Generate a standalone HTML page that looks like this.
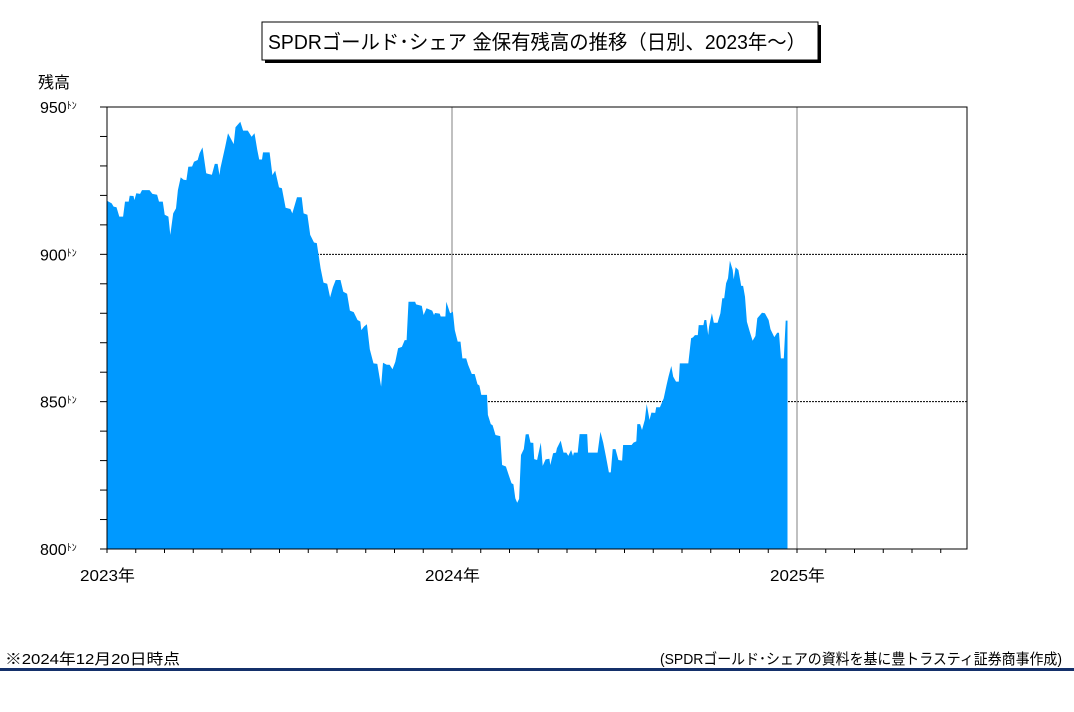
<!DOCTYPE html>
<html><head><meta charset="utf-8">
<style>
body{margin:0;background:#fff;width:1074px;height:707px;overflow:hidden;font-family:"Liberation Sans","Noto Sans CJK JP",sans-serif;}
svg text{font-family:"Liberation Sans","Noto Sans CJK JP",sans-serif;}
</style></head>
<body>
<svg id="chart" width="1074" height="707">
  <rect x="265" y="25" width="556" height="38" fill="#000"/>
  <rect x="262" y="22" width="556" height="38" fill="#fff" stroke="#000" stroke-width="1"/>
  <text x="268" y="49" font-size="20" textLength="538" lengthAdjust="spacingAndGlyphs">SPDRゴールド･シェア 金保有残高の推移（日別、2023年～）</text>
  <text x="38" y="88" font-size="16">残高</text>
  <g id="plot"></g>
  <text x="5" y="664" font-size="15" textLength="175" lengthAdjust="spacingAndGlyphs">※2024年12月20日時点</text>
  <text x="660" y="664" font-size="15" textLength="402" lengthAdjust="spacingAndGlyphs">(SPDRゴールド･シェアの資料を基に豊トラスティ証券商事作成)</text>
  <rect x="0" y="668" width="1074" height="3" fill="#14306a"/>
</svg>
<script>
const days=[0,5,7,10,13,17,19,23,24,28,29,31,35,37,45,48,53,55,59,61,65,67,70,73,75,78,81,84,86,90,92,96,98,101,105,107,111,114,117,119,120,125,128,134,136,141,144,149,153,156,159,161,164,165,172,175,178,182,185,189,194,196,201,206,208,212,215,219,222,226,229,233,236,239,242,247,250,254,257,261,265,268,269,272,275,278,282,286,290,292,296,299,302,305,308,312,315,317,319,326,327,333,335,338,344,346,347,352,353,358,359,363,366,368,371,374,376,380,382,386,389,392,394,396,402,403,406,408,411,416,418,422,425,428,430,432,434,436,438,441,443,446,448,451,452,455,459,461,464,468,469,472,475,476,480,483,486,488,491,493,494,498,500,508,509,519,522,525,528,531,533,535,538,541,545,546,555,557,560,561,564,566,569,571,574,576,580,581,585,589,592,594,597,599,602,605,606,615,618,620,622,625,626,631,632,634,636,637,640,642,646,649,651,653,655,657,659,662,663,665,668,671,673,675,677,680,683,686,688,693,696,700,702,706,709,711,713,716,718,720];
const tons=[918.2,917.3,916.2,916,912.8,912.8,917.9,917.9,919.9,919.8,918.4,920.7,920.5,921.8,921.8,920.5,920.2,917.9,917.9,913.4,912.8,906.6,913.9,915.6,921.8,926.1,925.3,925.2,929.7,929.8,931.4,932,934.3,936.3,927.5,927.3,927,930.7,930.7,926.9,929.2,936.5,941.1,937.4,943.1,945,942,942,939.9,941.1,935.4,932.2,932.2,934.6,934.6,926.9,928.4,922.7,922.4,915.8,915.4,913.9,919.4,919.4,913.9,913.4,906.6,904,903.8,895.3,890.4,890,885.4,888.8,891.3,891.3,887.3,886.6,880.9,880.4,877.7,877.2,874.3,875.5,876.3,867.8,863,862.8,855.1,863.2,862.5,862.5,861,863.5,868.1,868.6,870.9,870.9,883.9,883.9,883,882.5,879.4,881.7,880.9,879.4,880.1,879.9,878.9,878.9,883.9,880,880.5,874.3,870.4,870.4,864.7,864.7,862.5,859.4,859.4,855.9,855.5,852.3,852.3,845.5,842.4,842,838.7,838.3,828.5,828,825.1,822.3,822,817.2,815.7,817,831.9,833.9,838.9,839,836.1,836,830.5,830.2,836.1,828.2,830.4,830.6,828.5,832.5,832.7,834.2,836.8,832.7,832.7,831.6,833.6,831.6,832.7,832.7,839,839,832.7,832.7,839.8,836.1,831.1,826,826,833.9,833.9,830.2,830,835.3,835.3,836.1,836.5,842.4,842.4,840.4,843.8,849.2,843.8,846.3,846.2,848.1,848.1,851.1,855.7,858.5,862.1,858.5,856.8,856.8,863,863,871.5,871.8,872.6,872.6,876,876,877.7,877.7,872.6,875.5,880,876.8,876.8,880,885.1,885.1,890.2,891.9,897.8,894.7,891.5,895.6,894.7,889.3,889.3,885.6,877.1,873.8,870.7,872.3,878.3,880.2,880,877.7,874.6,871.9,873.4,873.4,864.7,864.7,877.5,877.5];
const yTicks=[800,850,900,950];
const yearLabels=["2023年","2024年","2025年"];
const L=107,R=967,T=107,B=549,Y0=800,Y1=950;
const yearPx=345;
function xs(d){return L+d*yearPx/365;}
function ys(v){return B-(v-Y0)*(B-T)/(Y1-Y0);}
const NS="http://www.w3.org/2000/svg";
const g=document.getElementById('plot');
function mk(tag,attrs){const e=document.createElementNS(NS,tag);for(const k in attrs)e.setAttribute(k,attrs[k]);g.appendChild(e);return e;}
[850,900].forEach(v=>{const e=mk('line',{x1:L,x2:R,y1:ys(v),y2:ys(v),stroke:'#000','stroke-width':1,'stroke-dasharray':'2,1'});

});
[1,2].forEach(i=>{const x=xs(365*i);const e=mk('line',{x1:x,x2:x,y1:T,y2:B,stroke:'#808080','stroke-width':1});

});
let p='M'+xs(days[0])+','+B;
for(let i=0;i<days.length;i++)p+=' L'+xs(days[i]).toFixed(1)+','+ys(tons[i]).toFixed(1);
p+=' L'+xs(days[days.length-1]).toFixed(1)+','+B+' Z';
const area=mk('path',{d:p,fill:'#0099ff'});


const fr=mk('rect',{x:L,y:T,width:R-L,height:B-T,fill:'none',stroke:'#000','stroke-width':1});


for(let v=Y0;v<=Y1;v+=10){const t=mk('line',{x1:L-7,x2:L,y1:ys(v),y2:ys(v),stroke:'#000','stroke-width':1});

}
yTicks.forEach(v=>{const t=mk('text',{x:40,y:ys(v)+6,'font-size':16});
t.textContent=v;
const s=document.createElementNS(NS,'tspan');s.setAttribute('font-size','10');s.setAttribute('dy','-4');s.textContent='ﾄﾝ';t.appendChild(s);

});
for(let m=0;m<=30;m++){const x=L+m*yearPx/12;if(x>R)break;const t=mk('line',{x1:x,x2:x,y1:B,y2:B+4,stroke:'#000','stroke-width':1});

}
yearLabels.forEach((s,i)=>{const t=mk('text',{x:xs(365*i)-27,y:581,'font-size':16,textLength:55,lengthAdjust:'spacingAndGlyphs'});t.textContent=s;

});
</script>
</body></html>
